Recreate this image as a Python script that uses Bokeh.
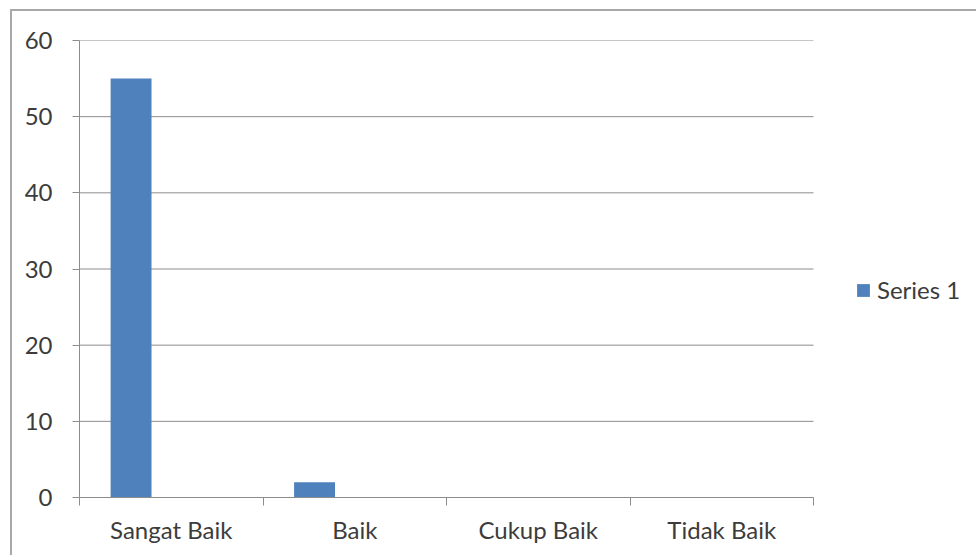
from bokeh.plotting import figure
from bokeh.models import (Range1d, LinearAxis, FixedTicker, Legend, LegendItem, ColumnDataSource)
from bokeh.transform import dodge
from bokeh.embed import file_html
from bokeh.resources import INLINE

categories = ["Sangat Baik", "Baik", "Cukup Baik", "Tidak Baik"]
series1 = [55, 2, 0, 0]
series_name = "Series 1"
y_ticks = [0, 10, 20, 30, 40, 50, 60]

FONT = "Lato"
TXT = "#3c3c3c"
GRID = "#8c8c8c"
BAR = "#4F81BD"

n = len(categories)
pos = list(range(n))
src = ColumnDataSource(dict(pos=pos, cat=categories, val=series1))

# plot area continues to the right (blank legend zone); category slots occupy [0, n]
x_end = n * 899 / 734
p = figure(x_range=Range1d(0, x_end), y_range=Range1d(0, 60),
           width=966, height=546, output_backend="svg", toolbar_location=None,
           x_axis_location=None, y_axis_location="left",
           min_border_left=67, min_border_top=29, min_border_right=0, min_border_bottom=60)
p.styles = {"border-left": "2px solid #a8a8a8", "border-top": "2px solid #a8a8a8",
            "margin-left": "10px", "margin-top": "9px"}
p.outline_line_color = None
p.background_fill_color = "white"
p.border_fill_color = "white"
p.xgrid.visible = False
p.ygrid.visible = False

# horizontal gridlines limited to the category area
p.segment(x0=[0] * len(y_ticks), x1=[n] * len(y_ticks), y0=y_ticks, y1=y_ticks,
          line_color=GRID, line_width=1)

r = p.vbar(x=dodge("pos", 0.281), top="val", width=0.223, source=src,
           fill_color=BAR, line_color=None)

# y axis
ya = p.yaxis[0]
ya.ticker = FixedTicker(ticks=y_ticks)
ya.axis_line_color = GRID
ya.major_tick_line_color = GRID
ya.major_tick_out = 7
ya.major_tick_in = 0
ya.minor_tick_line_color = None
ya.major_label_standoff = 20
ya.major_label_text_font = FONT
ya.major_label_text_font_size = "24px"
ya.major_label_text_color = TXT

# x axis with boundary ticks
xt = LinearAxis(ticker=FixedTicker(ticks=list(range(n + 1))), bounds=(0, n))
xt.axis_line_color = GRID
xt.major_tick_line_color = GRID
xt.major_tick_out = 8
xt.major_tick_in = 0
xt.minor_tick_line_color = None
xt.major_label_text_font_size = "0px"
xt.major_label_text_color = None
xt.major_label_standoff = 0
p.add_layout(xt, "below")

# category labels centred in each slot
centers = [i + 0.5 for i in pos]
xl = LinearAxis(ticker=FixedTicker(ticks=centers),
                major_label_overrides={c: lab for c, lab in zip(centers, categories)})
xl.axis_line_color = None
xl.major_tick_line_color = None
xl.minor_tick_line_color = None
xl.major_label_standoff = 3
xl.major_label_text_font = FONT
xl.major_label_text_font_size = "24px"
xl.major_label_text_color = TXT
p.add_layout(xl, "below")

legend = Legend(items=[LegendItem(label=series_name, renderers=[r])],
                location=(776, 193), padding=0, margin=0, border_line_color=None,
                background_fill_alpha=0, glyph_width=16, glyph_height=16, label_height=16,
                label_standoff=6, label_text_font=FONT, label_text_font_size="24px",
                label_text_color=TXT, label_text_baseline="middle")
p.add_layout(legend, "center")

open("out.html", "w").write(file_html(p, INLINE))
